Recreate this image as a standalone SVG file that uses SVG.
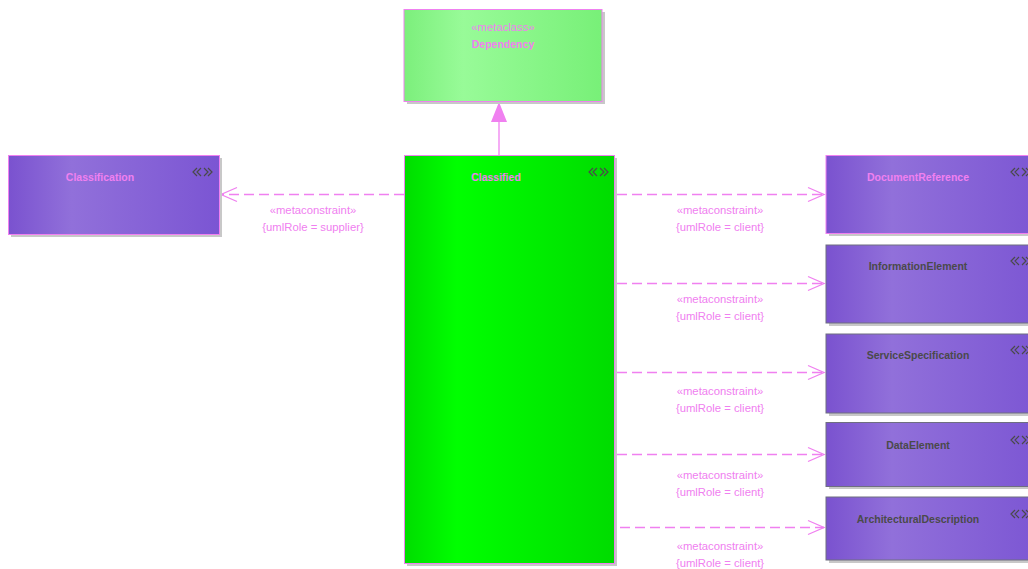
<svg xmlns="http://www.w3.org/2000/svg" width="1028" height="569" viewBox="0 0 1028 569">
<style>
.shadow{fill:#c8c8c8}
.pk{stroke:#f080f0;stroke-width:1}
.gr{stroke:#6e6e80;stroke-width:1}
.title{font-family:"Liberation Sans",Arial,sans-serif;font-size:10.5px;font-weight:bold;text-anchor:middle}
.tp{fill:#f080f0}
.td{fill:#4a4a4a}
.lbl{font-family:"Liberation Sans",Arial,sans-serif;font-size:11.3px;fill:#f080f0;text-anchor:middle}
.conn{stroke:#f080f0;stroke-width:1.3;fill:none}
.dash{stroke-dasharray:10,5}
.icon{fill:none;stroke:#4a4a4a;stroke-width:1.2}
</style>
<defs>
<linearGradient id="gPurple" x1="0" y1="0" x2="1" y2="0">
<stop offset="0" stop-color="#7a52cf"/>
<stop offset="0.3" stop-color="#9170da"/>
<stop offset="1" stop-color="#7b55d3"/>
</linearGradient>
<linearGradient id="gGreen" x1="0" y1="0" x2="1" y2="0">
<stop offset="0" stop-color="#00dd00"/>
<stop offset="0.25" stop-color="#00ff00"/>
<stop offset="1" stop-color="#00dc00"/>
</linearGradient>
<linearGradient id="gLight" x1="0" y1="0" x2="1" y2="0">
<stop offset="0" stop-color="#7cef7c"/>
<stop offset="0.3" stop-color="#98fb98"/>
<stop offset="1" stop-color="#78f078"/>
</linearGradient>
<g id="chev">
<path class="icon" d="M5,-4 L1,0 L5,4 M9,-4 L5,0 L9,4 M12,-4 L16,0 L12,4 M16,-4 L20,0 L16,4"/>
</g>
</defs>

<g id="connectors">
<line class="conn" x1="499" y1="122" x2="499" y2="155"/>
<polygon points="499,102 491,122 507,122" fill="#f080f0"/>
<line class="conn dash" x1="404" y1="194.5" x2="221" y2="194.5"/>
<polyline class="conn" points="237,187.5 221,194.5 237,201.5"/>
<line class="conn dash" x1="617" y1="194.5" x2="824" y2="194.5"/>
<polyline class="conn" points="808,187.5 824,194.5 808,201.5"/>
<line class="conn dash" x1="617" y1="283.5" x2="824" y2="283.5"/>
<polyline class="conn" points="808,276.5 824,283.5 808,290.5"/>
<line class="conn dash" x1="617" y1="372.5" x2="824" y2="372.5"/>
<polyline class="conn" points="808,365.5 824,372.5 808,379.5"/>
<line class="conn dash" x1="617" y1="454.5" x2="824" y2="454.5"/>
<polyline class="conn" points="808,447.5 824,454.5 808,461.5"/>
<line class="conn dash" x1="620" y1="527.5" x2="824" y2="527.5"/>
<polyline class="conn" points="808,520.5 824,527.5 808,534.5"/>
<text class="lbl" x="313" y="214">«metaconstraint»</text>
<text class="lbl" x="313" y="231">{umlRole = supplier}</text>
<text class="lbl" x="720" y="214">«metaconstraint»</text>
<text class="lbl" x="720" y="231">{umlRole = client}</text>
<text class="lbl" x="720" y="303">«metaconstraint»</text>
<text class="lbl" x="720" y="320">{umlRole = client}</text>
<text class="lbl" x="720" y="395">«metaconstraint»</text>
<text class="lbl" x="720" y="412">{umlRole = client}</text>
<text class="lbl" x="720" y="479">«metaconstraint»</text>
<text class="lbl" x="720" y="496">{umlRole = client}</text>
<text class="lbl" x="720" y="550">«metaconstraint»</text>
<text class="lbl" x="720" y="567">{umlRole = client}</text>
</g>

<g id="Dependency">
<rect class="shadow" x="407" y="12" width="198" height="92"/>
<rect x="404" y="9.5" width="198" height="92" fill="url(#gLight)" class="pk"/>
<text class="lbl" x="503" y="31">«metaclass»</text>
<text class="title tp" x="503" y="48">Dependency</text>
</g>

<g id="Classification">
<rect class="shadow" x="11" y="158" width="211" height="79"/>
<rect x="8.5" y="155.5" width="211" height="79" fill="url(#gPurple)" class="pk"/>
<text class="title tp" x="100" y="181">Classification</text>
<use href="#chev" x="192" y="172"/>
</g>

<g id="Classified">
<rect class="shadow" x="407" y="158" width="210" height="408"/>
<rect x="404.5" y="155.5" width="210" height="408" fill="url(#gGreen)" class="pk"/>
<text class="title tp" x="496" y="181">Classified</text>
<use href="#chev" x="588" y="172"/>
</g>

<g id="DocumentReference">
<rect class="shadow" x="829" y="158" width="220" height="78"/>
<rect x="826" y="155.5" width="220" height="78" fill="url(#gPurple)" class="pk"/>
<text class="title tp" x="918" y="181">DocumentReference</text>
<use href="#chev" x="1010" y="172"/>
</g>

<g id="InformationElement">
<rect class="shadow" x="829" y="248" width="220" height="78"/>
<rect x="826" y="245" width="220" height="78" fill="url(#gPurple)" class="gr"/>
<text class="title td" x="918" y="270">InformationElement</text>
<use href="#chev" x="1010" y="261"/>
</g>

<g id="ServiceSpecification">
<rect class="shadow" x="829" y="337" width="220" height="79"/>
<rect x="826" y="334" width="220" height="79" fill="url(#gPurple)" class="gr"/>
<text class="title td" x="918" y="359">ServiceSpecification</text>
<use href="#chev" x="1010" y="350"/>
</g>

<g id="DataElement">
<rect class="shadow" x="829" y="425" width="220" height="64"/>
<rect x="826" y="422.5" width="220" height="64" fill="url(#gPurple)" class="gr"/>
<text class="title td" x="918" y="449">DataElement</text>
<use href="#chev" x="1010" y="440"/>
</g>

<g id="ArchitecturalDescription">
<rect class="shadow" x="829" y="500" width="220" height="63"/>
<rect x="826" y="497" width="220" height="63" fill="url(#gPurple)" class="gr"/>
<text class="title td" x="918" y="523">ArchitecturalDescription</text>
<use href="#chev" x="1010" y="514"/>
</g>
</svg>
